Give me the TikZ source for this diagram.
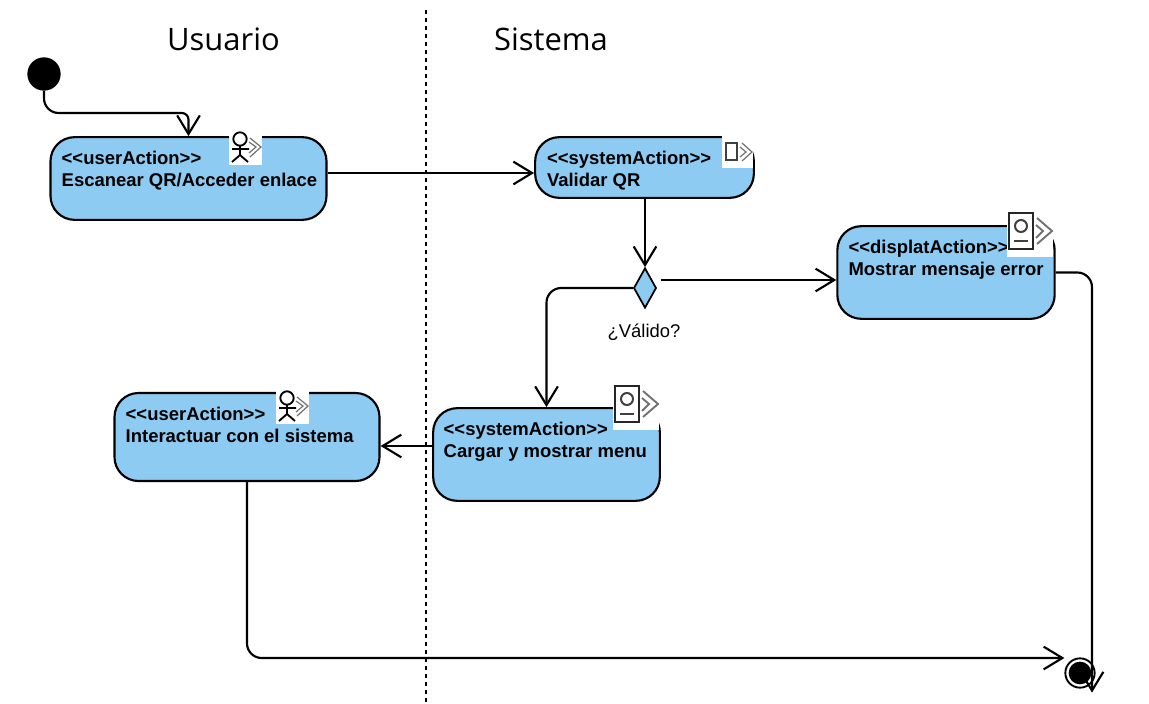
\documentclass[tikz,border=0pt]{standalone}
\usepackage{fontspec}
\setmainfont{Liberation Sans}
\newfontfamily\titlefont{Open Sans}
\usepackage{xcolor}
\usetikzlibrary{arrows.meta,positioning,shapes.geometric}
\definecolor{actionblue}{HTML}{8ECBF2}
\definecolor{icongray}{HTML}{707070}
\newcommand{\stereo}[1]{<{}<#1>{}>}

\tikzset{
  usericon/.pic={
    \fill[white] (0,0) rectangle (33,35);
    \draw[black,line width=1.4pt] (11,9) circle[radius=5pt];
    \draw[black,line width=1.4pt] (11,16) -- (11,25) (3,19) -- (20,19) (3,32) -- (11,25) -- (19,32);
    \draw[icongray,line width=.9pt] (21,8) -- (32,17) -- (21,27) (20,12) -- (27,17) -- (20,23);
  },
  tinyicon/.pic={
    \fill[white] (0,0) rectangle (31,32);
    \draw[black!75,line width=1.3pt] (4,7) rectangle (15,24);
    \draw[icongray,line width=.9pt] (20,7) -- (30,16) -- (20,25) (18,11) -- (24,16) -- (18,21);
  },
  screenicon/.pic={
    \fill[white] (0,0) rectangle (46,45);
    \draw[black!85,line width=1.8pt] (2,1) rectangle (26,37);
    \draw[black!75,line width=1.5pt] (14,14) circle[radius=4.5pt];
    \draw[black!75,line width=1.5pt] (7,29) -- (21,29);
    \draw[icongray,line width=1.4pt] (30,6) -- (45,19) -- (30,32) (29,13) -- (36,19) -- (29,26);
  }
}

\begin{document}
\begin{tikzpicture}[x=0.75pt,y=-0.75pt,>={Straight Barb[length=14pt,width=17pt]}]
  \tikzstyle{action}=[draw=black,fill=actionblue,line width=1.6pt,rounded corners=18pt,inner sep=0pt]
  \tikzstyle{actiontext}=[font=\bfseries\fontsize{13.85}{16.5}\selectfont,align=left,inner sep=0pt,anchor=north west,text=black]
  \tikzstyle{flow}=[->,line width=1.6pt,rounded corners=11pt]
  \tikzstyle{lane}=[font=\titlefont\fontsize{23.2}{28}\selectfont,inner sep=0pt]
  \useasboundingbox (0,0) rectangle (1149,703);

  \node[lane] (usuario) at (223.5,39) {Usuario};
  \node[lane] (sistema) at (551,39) {Sistema};
  \coordinate (lanetop) at (426,10);
  \coordinate (lanebottom) at (426,703);
  \draw[line width=1.5pt,dash pattern=on 3pt off 3pt] (lanetop) -- (lanebottom);

  \node[circle,fill=black,minimum size=25pt,inner sep=0pt] (start) at (44,74) {};
  \node[action,minimum width=207pt,minimum height=62pt] (scan) at (188.5,178.5) {};
  \node[action,minimum width=164pt,minimum height=45.5pt] (valid) at (644.5,167.5) {};
  \node[action,minimum width=163pt,minimum height=69.5pt] (display) at (946,272.5) {};
  \node[action,minimum width=170pt,minimum height=69.5pt] (load) at (546.5,454.5) {};
  \node[action,minimum width=198.75pt,minimum height=66pt] (use) at (247,437) {};
  \node[diamond,draw=black,fill=actionblue,line width=1.3pt,minimum width=17pt,minimum height=30pt,inner sep=0pt,aspect=.55] (check) at (645,288) {};
  \node[font=\fontsize{13.8}{15}\selectfont,inner sep=0pt] (checklabel) at (644,332) {¿Válido?};
  \node[circle,draw=black,fill=white,line width=1.4pt,minimum size=22pt,inner sep=0pt] (end) at (1080,673) {};
  \node[circle,fill=black,minimum size=17pt,inner sep=0pt] (endcore) at (end) {};

  \node[actiontext,below right=11pt and 9pt of scan.north west,anchor=north west] (scantext) {\stereo{userAction}\\Escanear QR/Acceder enlace};
  \node[actiontext,below right=10.75pt and 9.5pt of valid.north west,anchor=north west] (validtext) {\stereo{systemAction}\\Validar QR};
  \node[actiontext,below right=11pt and 9pt of display.north west,anchor=north west] (displaytext) {\stereo{displatAction}\\Mostrar mensaje error};
  \node[actiontext,below right=11.25pt and 8.5pt of load.north west,anchor=north west] (loadtext) {\stereo{systemAction}\\Cargar y mostrar menu};
  \node[actiontext,below right=11pt and 9pt of use.north west,anchor=north west] (usetext) {\stereo{userAction}\\Interactuar con el sistema};

  \pic at (229,130) {usericon};
  \pic at (276,389) {usericon};
  \pic at (722,136) {tinyicon};
  \pic at (1007,212) {screenicon};
  \pic at (613,385) {screenicon};

  \draw[flow] (start.south) |- (150,113) [rounded corners=5pt] -| (scan.north);
  \draw[flow] ([yshift=4.125pt]scan.east) -- ([yshift=-4.125pt]valid.west);
  \draw[flow] (valid.south -| check.north) -- (check.north);
  \draw[flow] ([shift={(3pt,6pt)}]check.east) -- ([yshift=-5.625pt]display.west);
  \draw[flow] (check.west) -| (load.north);
  \draw[flow] ([yshift=6.375pt]load.west) -- ([yshift=-6.75pt]use.east);
  \draw[flow] (use.south) |- ([yshift=11.25pt]end.west);
  \draw[flow] (display.east) -| ([shift={(9pt,-3pt)}]end.south);
\end{tikzpicture}
\end{document}
